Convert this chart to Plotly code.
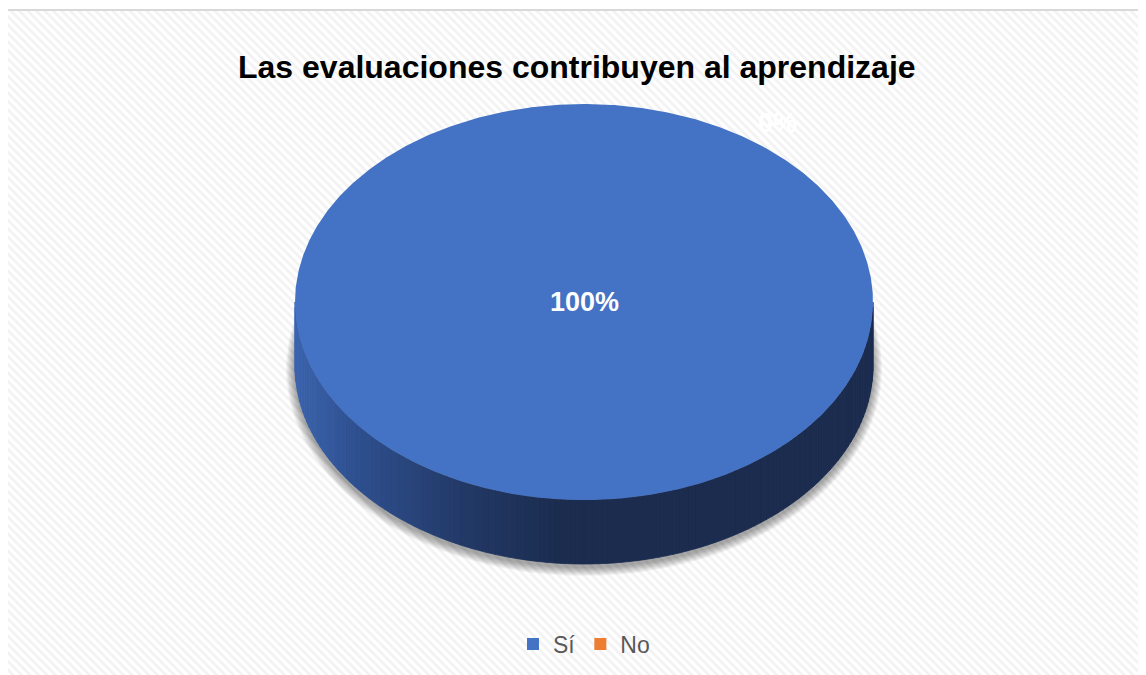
import numpy as np
import plotly.graph_objects as go

# ---------------- data ----------------
title_text = "Las evaluaciones contribuyen al aprendizaje"
labels = ["Sí", "No"]
values = [100, 0]
colors = ["#4472C4", "#ED7D31"]

# ---------------- geometry / style ----------------
W, H = 1146, 675
OFF = 8  # page body margin
CX, CY, RX, RY, DEPTH = 584, 302, 289, 198, 64
LABEL_POS = [(0, 0.0), (36.5, 1.124)]  # (angle clockwise from top, radius factor) per slice

total = float(sum(values))
shares = [v / total for v in values]
starts = np.concatenate([[0.0], np.cumsum(shares)[:-1]]) * 360.0
ends = starts + np.array(shares) * 360.0


def arc(a0, a1, n, dy=0.0, grow=0.0):
    t = np.radians(np.linspace(a0, a1, n))
    return CX + (RX + grow) * np.sin(t), CY - (RY + grow) * np.cos(t) + dy


def side_rgb(x):
    xs = [295, 360, 470, 560, 900]
    r = np.interp(x, xs, [60, 46, 34, 27, 27])
    g = np.interp(x, xs, [100, 79, 56, 44, 44])
    b = np.interp(x, xs, [174, 142, 101, 79, 79])
    return f"rgb({int(r)},{int(g)},{int(b)})"


fig = go.Figure()

# hatched chart-area background
fig.add_trace(go.Scatter(
    x=[7, W + 20, W + 20, 7, 7], y=[10, 10, H + 20, H + 20, 10],
    mode="lines", fill="toself", line=dict(width=0), fillcolor="white",
    fillpattern=dict(shape="\\", fgcolor="#e6e6e6", bgcolor="white", size=6, solidity=0.45),
    hoverinfo="skip", showlegend=False))

# soft shadow under the pie
for k in range(9, 0, -1):
    xs, ys = arc(0, 360, 200, dy=DEPTH + 3, grow=k)
    fig.add_trace(go.Scatter(x=xs, y=ys, mode="lines", fill="toself", line=dict(width=0),
                             fillcolor="rgba(0,0,0,0.045)", hoverinfo="skip", showlegend=False))

# side walls (front half, angles 90..270)
for i, (a0, a1) in enumerate(zip(starts, ends)):
    lo, hi = max(a0, 90), min(a1, 270)
    if hi <= lo:
        continue
    nstrip = max(2, int((hi - lo) / 1.5))
    edges = np.linspace(lo, hi, nstrip + 1)
    for s0, s1 in zip(edges[:-1], edges[1:]):
        tx, ty = arc(s0, s1, 4)
        bx, by = arc(s1, s0, 4, dy=DEPTH)
        col = side_rgb(float(np.mean(tx)))
        fig.add_trace(go.Scatter(x=np.concatenate([tx, bx, tx[:1]]),
                                 y=np.concatenate([ty, by, ty[:1]]),
                                 mode="lines", fill="toself", line=dict(width=0.8, color=col),
                                 fillcolor=col, hoverinfo="skip", showlegend=False))

# top faces
for i, (a0, a1) in enumerate(zip(starts, ends)):
    if a1 - a0 <= 0:
        continue
    n = max(3, int((a1 - a0) * 2))
    ax, ay = arc(a0, a1, n)
    fig.add_trace(go.Scatter(x=np.concatenate([[CX], ax, [CX]]),
                             y=np.concatenate([[CY], ay, [CY]]),
                             mode="lines", fill="toself", line=dict(width=0),
                             fillcolor=colors[i], hoverinfo="skip", showlegend=False))

# legend entries
for lab, col in zip(labels, colors):
    fig.add_trace(go.Scatter(x=[None], y=[None], mode="markers", name=lab,
                             marker=dict(symbol="square", size=12, color=col)))

# data labels
annotations = []
for i, v in enumerate(values):
    ang, rf = LABEL_POS[i]
    t = np.radians(ang)
    annotations.append(dict(
        x=CX + RX * rf * np.sin(t), y=CY - RY * rf * np.cos(t),
        xref="x", yref="y", text=f"{round(v / total * 100)}%", showarrow=False,
        font=dict(family="Liberation Sans, Arial", size=27, color="white", weight="bold")))

annotations.append(dict(
    x=577, y=67, xref="x", yref="y", text=title_text, showarrow=False,
    font=dict(family="Liberation Sans, Arial", size=32, color="black", weight="bold")))

fig.update_layout(
    width=W, height=H,
    margin=dict(l=0, r=0, t=0, b=0),
    paper_bgcolor="white", plot_bgcolor="white",
    xaxis=dict(range=[OFF, W + OFF], visible=False, fixedrange=True),
    yaxis=dict(range=[H + OFF, OFF], visible=False, fixedrange=True),
    showlegend=True,
    legend=dict(orientation="h", x=(584 - OFF) / W, xanchor="center",
                y=1 - (644 - OFF) / H, yanchor="middle",
                font=dict(family="Liberation Sans, Arial", size=23, color="#595959"),
                bgcolor="rgba(0,0,0,0)", itemwidth=30),
    annotations=annotations,
    shapes=[dict(type="rect", xref="x", yref="y", x0=7, y0=10, x1=W + 20, y1=H + 20,
                 line=dict(color="#d9d9d9", width=2), fillcolor="rgba(0,0,0,0)", layer="above")],
)

fig.write_html("out.html")
